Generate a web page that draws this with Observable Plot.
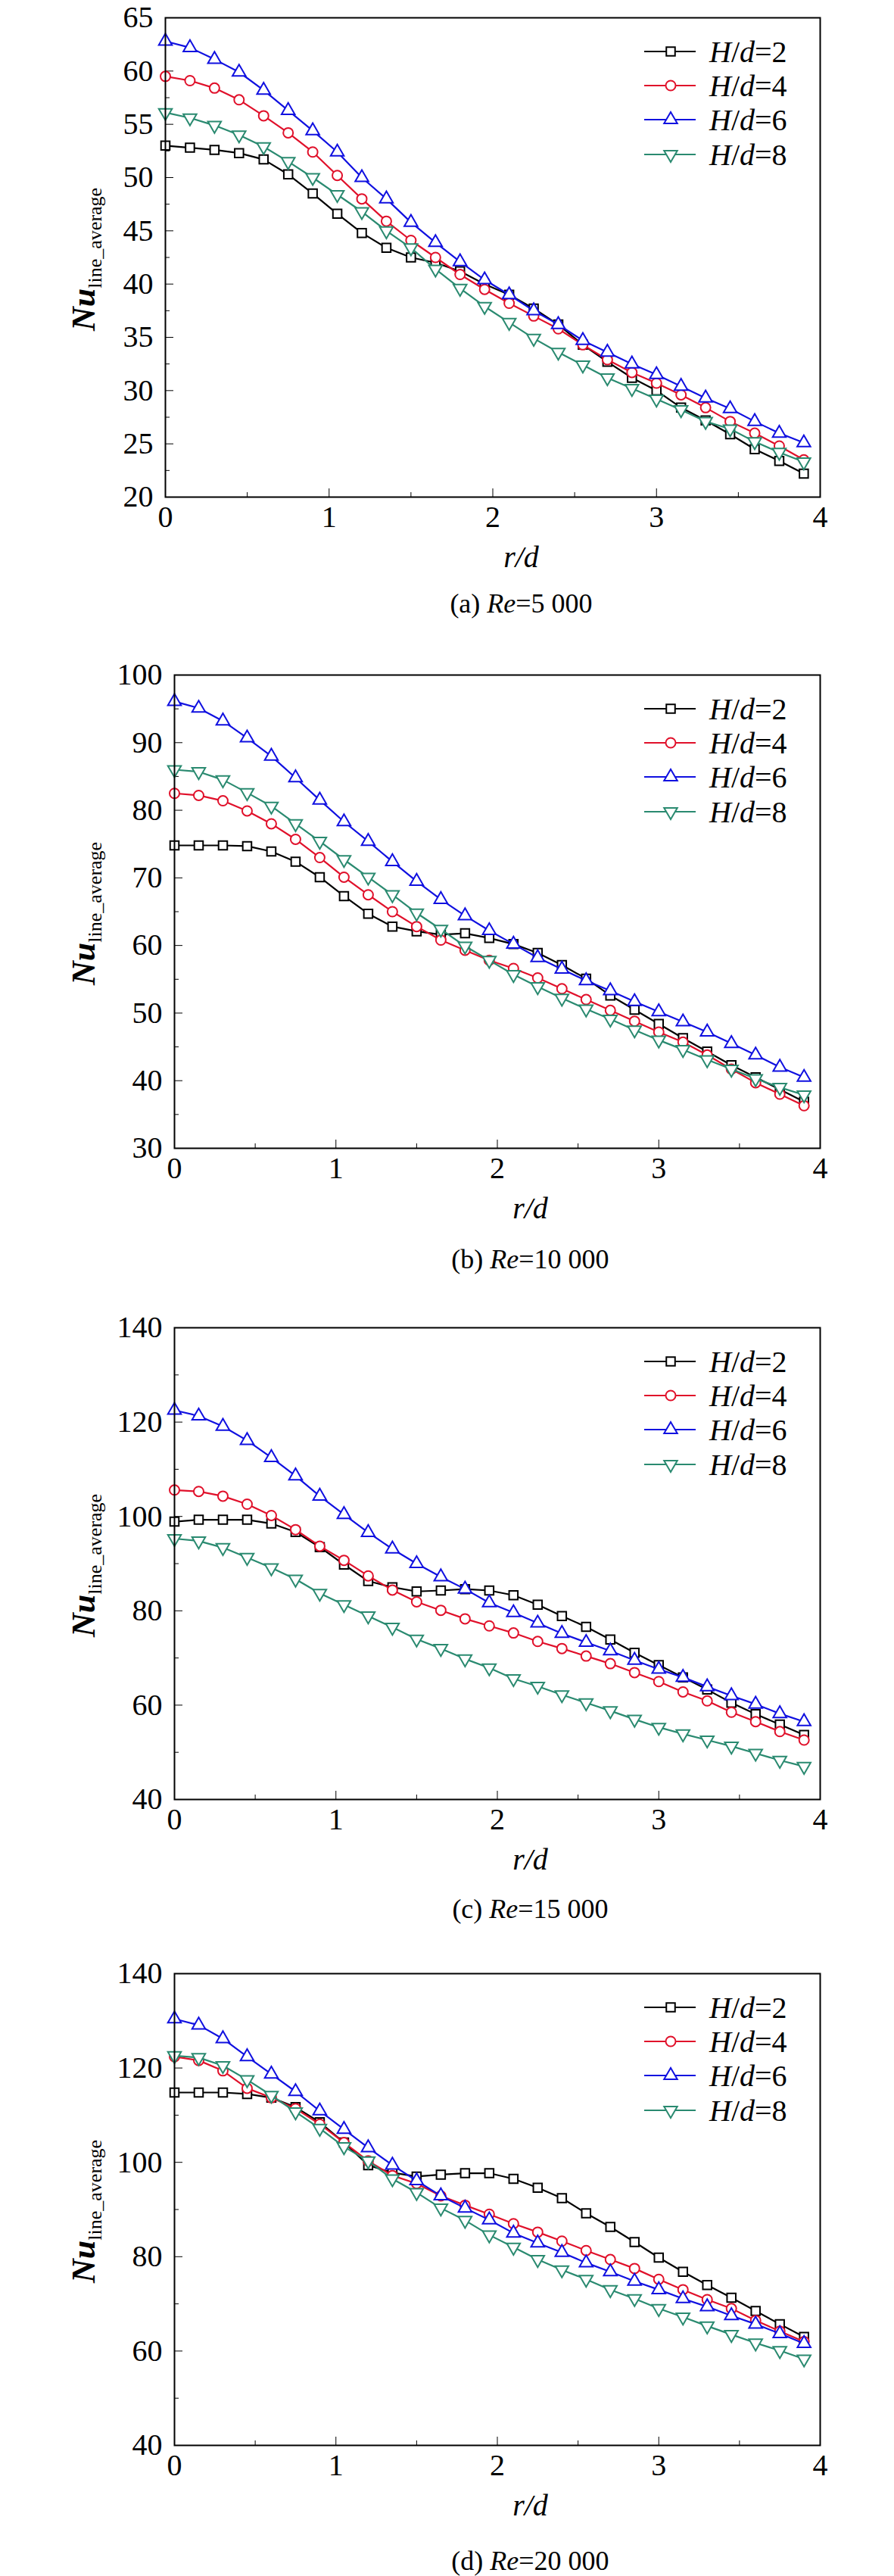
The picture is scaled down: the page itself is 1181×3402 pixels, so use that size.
<!DOCTYPE html>
<html><head><meta charset="utf-8">
<script src="https://cdn.jsdelivr.net/npm/d3@7"></script>
<script src="https://cdn.jsdelivr.net/npm/@observablehq/plot@0.6"></script>
<style>
body{margin:0;background:#fff;font-family:"Liberation Serif","DejaVu Serif",serif;}
svg, svg text{font-family:"Liberation Serif","DejaVu Serif",serif !important;}
#root{position:relative;width:1181px;height:3402px;}
.panel{position:absolute;left:0;width:1181px;}
.cap{position:absolute;left:0;width:1181px;text-align:center;font-size:36px;line-height:40px;margin-left:110px;}
.xl{position:absolute;left:0;width:1181px;text-align:center;font-size:40px;font-style:italic;line-height:40px;margin-left:110px;}
.yl{position:absolute;font-size:44px;transform:rotate(-90deg);transform-origin:center;white-space:nowrap;}
</style></head><body><div id="root"></div>
<script>
const rd = [0,0.15,0.3,0.45,0.6,0.75,0.9,1.05,1.2,1.35,1.5,1.65,1.8,1.95,2.1,2.25,2.4,2.55,2.7,2.85,3.0,3.15,3.3,3.45,3.6,3.75,3.9];
const seriesNames = ["H/d=2","H/d=4","H/d=6","H/d=8"];
const colors = ["#000000","#e0102a","#1010e0","#2a8a70"];

// (a) Re=5 000
const a_hd2 = [53,52.8,52.6,52.3,51.7,50.3,48.5,46.6,44.8,43.4,42.5,42.0,41.2,40.0,39.0,37.7,36.2,34.3,32.7,31.2,30.0,28.4,27.2,25.9,24.5,23.4,22.2];
const a_hd4 = [59.5,59.1,58.4,57.3,55.8,54.2,52.4,50.2,48.0,45.9,44.1,42.5,40.9,39.5,38.2,37.0,35.8,34.3,32.9,31.7,30.7,29.6,28.4,27.1,26.0,24.8,23.5];
const a_hd6 = [62.8,62.2,61.1,59.9,58.2,56.3,54.4,52.4,50.0,48.0,45.8,43.9,42.1,40.4,39.0,37.5,36.2,34.7,33.6,32.5,31.5,30.4,29.3,28.3,27.1,26.0,25.1];
const a_hd8 = [56.1,55.6,54.9,54.0,52.9,51.5,50.0,48.4,46.8,45.0,43.4,41.4,39.6,37.9,36.4,34.9,33.6,32.4,31.2,30.2,29.2,28.2,27.1,26.4,25.2,24.2,23.3];
// (b) Re=10 000
const b_hd2 = [74.8,74.8,74.8,74.7,73.9,72.4,70.1,67.3,64.7,62.8,62.1,61.6,61.8,61.1,60.2,58.9,57.1,55.1,52.6,50.5,48.4,46.3,44.3,42.3,40.5,38.7,36.9];
const b_hd4 = [82.5,82.2,81.4,79.9,78.0,75.7,73.0,70.1,67.5,65.0,62.8,60.8,59.3,57.8,56.6,55.2,53.6,52.0,50.4,48.8,47.2,45.7,43.8,41.7,39.7,38.0,36.3];
const b_hd6 = [96.1,95.1,93.2,90.7,88.0,84.8,81.5,78.3,75.4,72.4,69.5,66.8,64.4,62.2,60.2,58.2,56.5,54.8,53.3,51.7,50.2,48.7,47.2,45.5,43.8,42.0,40.5];
const b_hd8 = [86.0,85.7,84.5,82.6,80.6,78.0,75.4,72.7,70.1,67.5,64.8,62.4,59.9,57.8,55.7,53.9,52.2,50.6,49.1,47.5,46.0,44.6,43.1,41.7,40.3,39.0,37.9];
// (c) Re=15 000
const c_hd2 = [98.9,99.3,99.3,99.3,98.5,96.7,93.5,89.8,86.3,85.0,84.1,84.3,84.6,84.3,83.3,81.3,78.9,76.6,73.9,71.1,68.5,65.9,63.3,60.5,58.1,55.9,53.7];
const c_hd4 = [105.6,105.3,104.3,102.6,100.2,97.2,93.7,90.7,87.4,84.4,81.9,80.1,78.3,76.8,75.3,73.5,72.0,70.4,68.8,66.9,65.0,62.8,60.9,58.5,56.5,54.4,52.6];
const c_hd6 = [122.5,121.3,119.1,116.1,112.5,108.6,104.3,100.4,96.6,93.1,90.0,87.2,84.6,81.7,79.6,77.4,75.2,73.3,71.5,69.5,67.6,65.9,63.9,62.0,60.2,58.2,56.5];
const c_hd8 = [95.3,94.8,93.4,91.3,89.1,86.7,83.7,81.3,78.9,76.5,74.0,72.0,69.8,67.9,65.6,64.0,62.2,60.5,58.8,57.0,55.3,53.9,52.6,51.3,49.8,48.3,47.0];
// (d) Re=20 000
const d_hd2 = [114.8,114.8,114.8,114.5,113.7,111.7,108.5,104.2,99.4,97.8,97.0,97.4,97.7,97.7,96.5,94.6,92.4,89.2,86.3,83.1,79.8,76.8,74.0,71.3,68.5,65.7,63.0];
const d_hd4 = [122.4,121.6,119.4,115.7,113.7,111.4,108.1,104.2,100.3,97.2,95.5,92.9,90.9,89.0,87.0,85.2,83.3,81.3,79.4,77.5,75.2,73.0,70.9,69.0,66.5,64.2,62.0];
const d_hd6 = [130.4,129.1,126.2,122.4,118.7,115.0,110.9,107.0,103.1,99.4,96.1,92.9,90.3,87.8,85.0,82.9,80.9,78.7,76.8,74.8,73.0,71.1,69.4,67.5,65.7,63.7,61.6];
const d_hd8 = [122.6,122.2,120.5,117.5,114.2,110.7,107.2,103.3,100.3,96.5,93.6,90.3,87.7,84.6,82.0,79.4,77.2,75.2,73.0,71.1,69.0,67.2,65.3,63.5,61.7,60.1,58.3];

const xTicks = [0,1,2,3,4];
const xMinor = [0.5,1.5,2.5,3.5];

const triDown = {draw(ctx,size){const s=Math.sqrt(size/(Math.sqrt(3)/4));const h=s*Math.sqrt(3)/2;ctx.moveTo(-s/2,-h/3);ctx.lineTo(s/2,-h/3);ctx.lineTo(0,2*h/3);ctx.closePath();}};
const triUp = {draw(ctx,size){const s=Math.sqrt(size/(Math.sqrt(3)/4));const h=s*Math.sqrt(3)/2;ctx.moveTo(-s/2,h/3);ctx.lineTo(s/2,h/3);ctx.lineTo(0,-2*h/3);ctx.closePath();}};
const symbols = [d3.symbolSquare, d3.symbolCircle, triUp, triDown];

const panels = [
  {top:0, left:218, h:633, dom:[20,65], yt:[20,25,30,35,40,45,50,55,60,65], ym:d3.range(22.5,65,5), data:[a_hd2,a_hd4,a_hd6,a_hd8], cap:"(a) ", re:"5 000", capY:777},
  {top:868, left:230, h:625, dom:[30,100], yt:[30,40,50,60,70,80,90,100], ym:d3.range(35,100,10), data:[b_hd2,b_hd4,b_hd6,b_hd8], cap:"(b) ", re:"10 000", capY:1643},
  {top:1730, left:230, h:623, dom:[40,140], yt:[40,60,80,100,120,140], ym:d3.range(50,140,20), data:[c_hd2,c_hd4,c_hd6,c_hd8], cap:"(c) ", re:"15 000", capY:2501},
  {top:2583, left:230, h:623, dom:[40,140], yt:[40,60,80,100,120,140], ym:d3.range(50,140,20), data:[d_hd2,d_hd4,d_hd6,d_hd8], cap:"(d) ", re:"20 000", capY:3362}
];

const root = document.getElementById("root");
panels.forEach(p => {
  const rows = [];
  p.data.forEach((arr,si)=>arr.forEach((v,i)=>rows.push({x:rd[i], y:v, s:si})));
  const mt = 23, mb = 110, mr = 98;
  const marks = [
    Plot.axisX({ticks:xTicks, tickSize:-11, tickPadding:22, fontSize:40, tickFormat:d=>d}),
    Plot.axisX({ticks:xMinor, tickSize:-6, text:null, label:null}),
    Plot.axisY({ticks:p.yt, tickSize:-11, tickPadding:27, fontSize:40, label:null, tickFormat:d=>d}),
    Plot.axisY({ticks:p.ym, tickSize:-6, text:null, label:null}),
  ];
  for (let si=0; si<4; si++) {
    const d = rows.filter(r=>r.s===si);
    marks.push(Plot.line(d,{x:"x",y:"y",stroke:colors[si],strokeWidth:2.2}));
    marks.push(Plot.dot(d,{x:"x",y:"y",symbol:()=>symbols[si],r:6.5,stroke:colors[si],strokeWidth:2,fill:"#fff"}));
  }
  marks.push(Plot.frame({stroke:"#000",strokeWidth:2}));
  const chart = Plot.plot({
    width:1181, height:mt+p.h+mb, marginTop:mt, marginBottom:mb, marginLeft:p.left, marginRight:mr,
    x:{domain:[0,4], label:null}, y:{domain:p.dom, label:null},
    style:{fontFamily:"'Liberation Serif', serif", color:"#000", background:"#fff"},
    marks
  });
  chart.setAttribute("class","panel");
  chart.style.top = p.top+"px";
  root.appendChild(chart);

  const ns="http://www.w3.org/2000/svg";
  const lg=document.createElementNS(ns,"svg");
  lg.setAttribute("width",1181); lg.setAttribute("height",300);
  lg.style.position="absolute"; lg.style.left="0"; lg.style.top=p.top+"px";
  const rowsY=[68,113,158,204];
  seriesNames.forEach((nm,si)=>{
    const y=rowsY[si];
    const l=document.createElementNS(ns,"line");
    l.setAttribute("x1",851);l.setAttribute("x2",919);l.setAttribute("y1",y);l.setAttribute("y2",y);
    l.setAttribute("stroke",colors[si]);l.setAttribute("stroke-width",2.2);lg.appendChild(l);
    const path=document.createElementNS(ns,"path");
    path.setAttribute("d",d3.symbol(symbols[si], Math.PI*6.5*6.5)());
    path.setAttribute("transform",`translate(886,${y})`);
    path.setAttribute("fill","#fff");path.setAttribute("stroke",colors[si]);path.setAttribute("stroke-width",2);
    lg.appendChild(path);
    const t=document.createElementNS(ns,"text");
    t.setAttribute("x",937);t.setAttribute("y",y+14);
    t.setAttribute("font-size",40);
    t.innerHTML=`<tspan font-style="italic">H</tspan>/<tspan font-style="italic">d</tspan>=${nm.split("=")[1]}`;
    lg.appendChild(t);
  });
  root.appendChild(lg);

  const yl=document.createElement("div");
  yl.className="yl";
  yl.innerHTML=`<i style="font-weight:bold">Nu</i><sub style="font-size:26px">line_average</sub>`;
  yl.style.left="8px"; yl.style.top=(p.top+mt+p.h/2-26)+"px";
  yl.style.width="210px"; yl.style.textAlign="center";
  root.appendChild(yl);

  const xl=document.createElement("div");
  xl.className="xl"; xl.style.top=(p.top+mt+p.h+60)+"px"; xl.style.marginLeft=(p.left-120)+"px";
  xl.textContent="r/d"; root.appendChild(xl);

  const cap=document.createElement("div");
  cap.className="cap"; cap.style.top=p.capY+"px"; cap.style.marginLeft=(p.left-120)+"px";
  cap.innerHTML=`${p.cap}<i>Re</i>=${p.re}`; root.appendChild(cap);
});
</script></body></html>
